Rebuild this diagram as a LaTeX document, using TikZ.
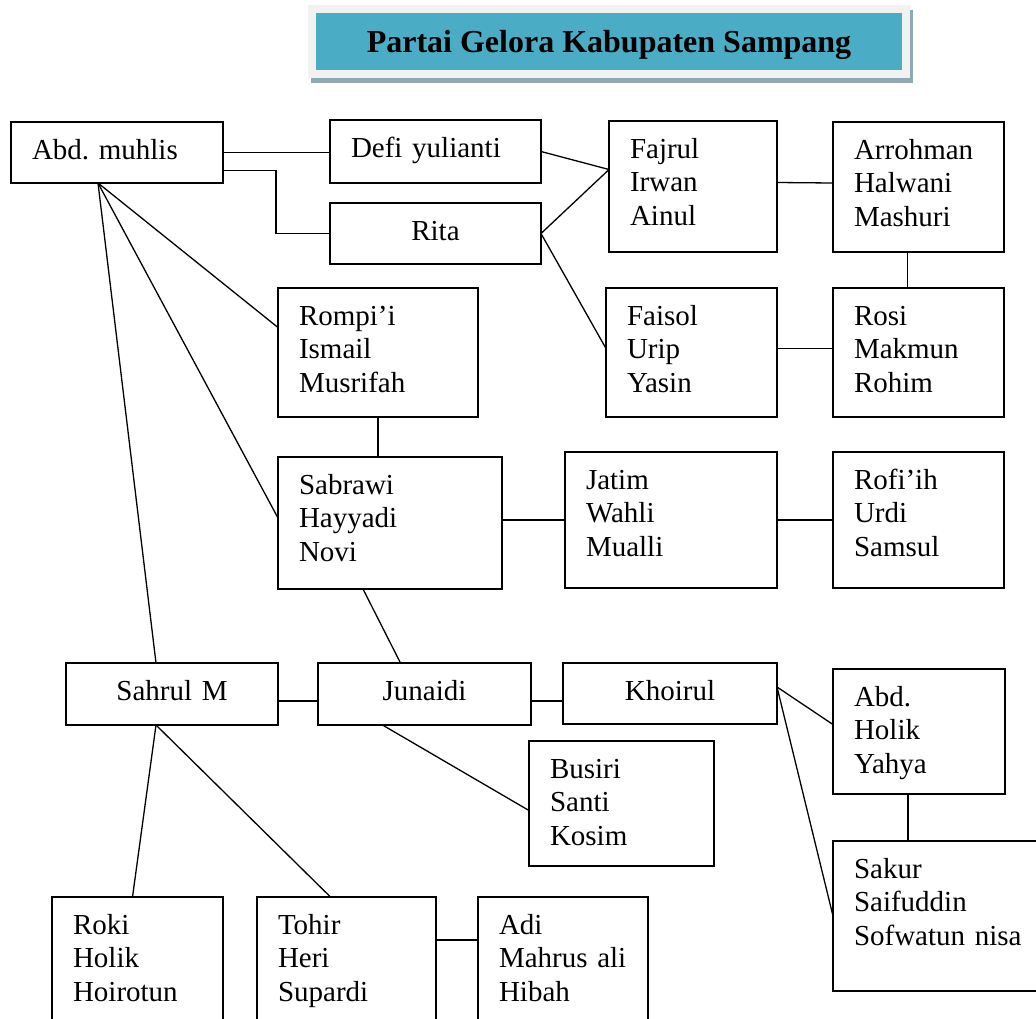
\documentclass[tikz,border=0pt]{standalone}
\usepackage{fontspec}
\setmainfont{Liberation Serif}
\usepackage{tikz}
\frenchspacing
\definecolor{titlefill}{RGB}{75,172,198}
\definecolor{titleframe}{RGB}{242,242,242}
\definecolor{titleshadow}{RGB}{143,168,178}
\tikzset{member/.style={draw,line width=1.3pt,anchor=north west,align=left,inner xsep=21pt,
  inner ysep=0pt,outer sep=0pt,text height=37pt,font=\fontsize{29}{33.5}\selectfont},
 leader/.style={member,align=center},
 link/.style={line width=1.3pt},
 heading/.style={fill=titlefill,draw=titleframe,line width=8pt,minimum width=594pt,minimum height=65pt,
  text height=21pt,text depth=0pt,font=\fontsize{32}{38}\selectfont\bfseries}}

\begin{document}
\begin{tikzpicture}[x=1pt,y=-1pt]
\useasboundingbox (0,0) rectangle (1036,1018);
\clip (0,0) rectangle (1036,1018);
\fill[titleshadow] (311,10) rectangle (913,83);
\node[heading] (title) at (609,41.5) {Partai Gelora Kabupaten Sampang};

\node[member,text width=170pt,text depth=24pt] (abd) at (11,122) {Abd. muhlis};
\node[member,text width=169pt,text depth=26pt] (defi) at (330,120) {Defi yulianti};
\node[leader,text width=169pt,text depth=24pt] (rita) at (330,203) {Rita};
\node[member,text width=126pt,text depth=94pt] (fajrul) at (609,121) {Fajrul\\Irwan\\Ainul};
\node[member,text width=129pt,text depth=93pt] (arrohman) at (833,122) {Arrohman\\Halwani\\Mashuri};
\node[member,text width=158pt,text depth=92pt] (rompi) at (278,288) {Rompi’i\\Ismail\\Musrifah};
\node[member,text width=129pt,text depth=92pt] (faisol) at (606,288) {Faisol\\Urip\\Yasin};
\node[member,text width=129pt,text depth=92pt] (rosi) at (833,288) {Rosi\\Makmun\\Rohim};
\node[member,text width=182pt,text depth=95pt] (sabrawi) at (278,457) {Sabrawi\\Hayyadi\\Novi};
\node[member,text width=170pt,text depth=99pt] (jatim) at (565,452) {Jatim\\Wahli\\Mualli};
\node[member,text width=129pt,text depth=99pt] (rofiih) at (833,452) {Rofi’ih\\Urdi\\Samsul};
\node[leader,text width=170pt,text depth=25pt] (sahrul) at (66,663) {Sahrul M};
\node[leader,text width=171pt,text depth=25pt] (junaidi) at (318,663) {Junaidi};
\node[leader,text width=172pt,text depth=24pt] (khoirul) at (563,663) {Khoirul};
\node[member,text width=130pt,text depth=88pt] (holik) at (833,669) {Abd.\\Holik\\Yahya};
\node[member,text width=143pt,text depth=88pt] (busiri) at (529,741) {Busiri\\Santi\\Kosim};
\node[member,text width=190pt,text depth=113pt] (sakur) at (833,841) {Sakur\\Saifuddin\\Sofwatun nisa};
\node[member,text width=129pt,text depth=94pt] (roki) at (52,897) {Roki\\Holik\\Hoirotun};
\node[member,text width=137pt,text depth=94pt] (tohir) at (257,897) {Tohir\\Heri\\Supardi};
\node[member,text width=128pt,text depth=94pt] (adi) at (478,897) {Adi\\Mahrus ali\\Hibah};

\draw[link] (abd.east) -- (abd.east -| defi.west);
\draw[link] ([yshift=-18pt]abd.east) -| ([xshift=-54pt]rita.west) -- (rita.west);
\draw[link] (defi.east) -- ([yshift=17pt]fajrul.west);
\draw[link] (rita.east) -- ([yshift=17pt]fajrul.west);
\draw[link] (rita.east) -- ([yshift=4pt]faisol.west);
\draw[link] ([yshift=4pt]fajrul.east) -- ([yshift=4pt]arrohman.west);
\draw[link] ([xshift=-11pt]arrohman.south) -- ([xshift=-11pt]rosi.north);
\draw[link] ([yshift=4pt]faisol.east) -- ([yshift=4pt]rosi.west);
\draw[link] ([xshift=-19pt]abd.south) -- ([yshift=25pt]rompi.west);
\draw[link] ([xshift=-19pt]abd.south) -- ([yshift=5pt]sabrawi.west);
\draw[link] ([xshift=-19pt]abd.south) -- ([xshift=-16pt]sahrul.north);
\draw[link] (rompi.south) -- (rompi.south |- sabrawi.north);
\draw[link] (jatim.west -| sabrawi.east) -- (jatim.west);
\draw[link] (jatim.east) -- (rofiih.west);
\draw[link] ([xshift=-27pt]sabrawi.south) -- ([xshift=-24pt]junaidi.north);
\draw[link] ([yshift=-7pt]sahrul.east) -- ([yshift=-7pt]junaidi.west);
\draw[link] ([yshift=-7pt]junaidi.east) -- ([yshift=-7pt]junaidi.east -| khoirul.west);
\draw[link] ([xshift=-42pt]junaidi.south) -- ([yshift=-7pt]busiri.west);
\draw[link] ([yshift=-24pt]khoirul.north east) -- ([yshift=7pt]holik.west);
\draw[link] ([yshift=-24pt]khoirul.north east) -- (sakur.west);
\draw[link] ([xshift=-11pt]holik.south) -- ([xshift=-11pt]holik.south |- sakur.north);
\draw[link] ([xshift=-16pt]sahrul.south) -- ([xshift=-5pt]roki.north);
\draw[link] ([xshift=-16pt]sahrul.south) -- ([xshift=-16pt]tohir.north);
\draw[link] ([yshift=-43pt]tohir.north east) -- ([yshift=-43pt]adi.north west);
\end{tikzpicture}
\end{document}
